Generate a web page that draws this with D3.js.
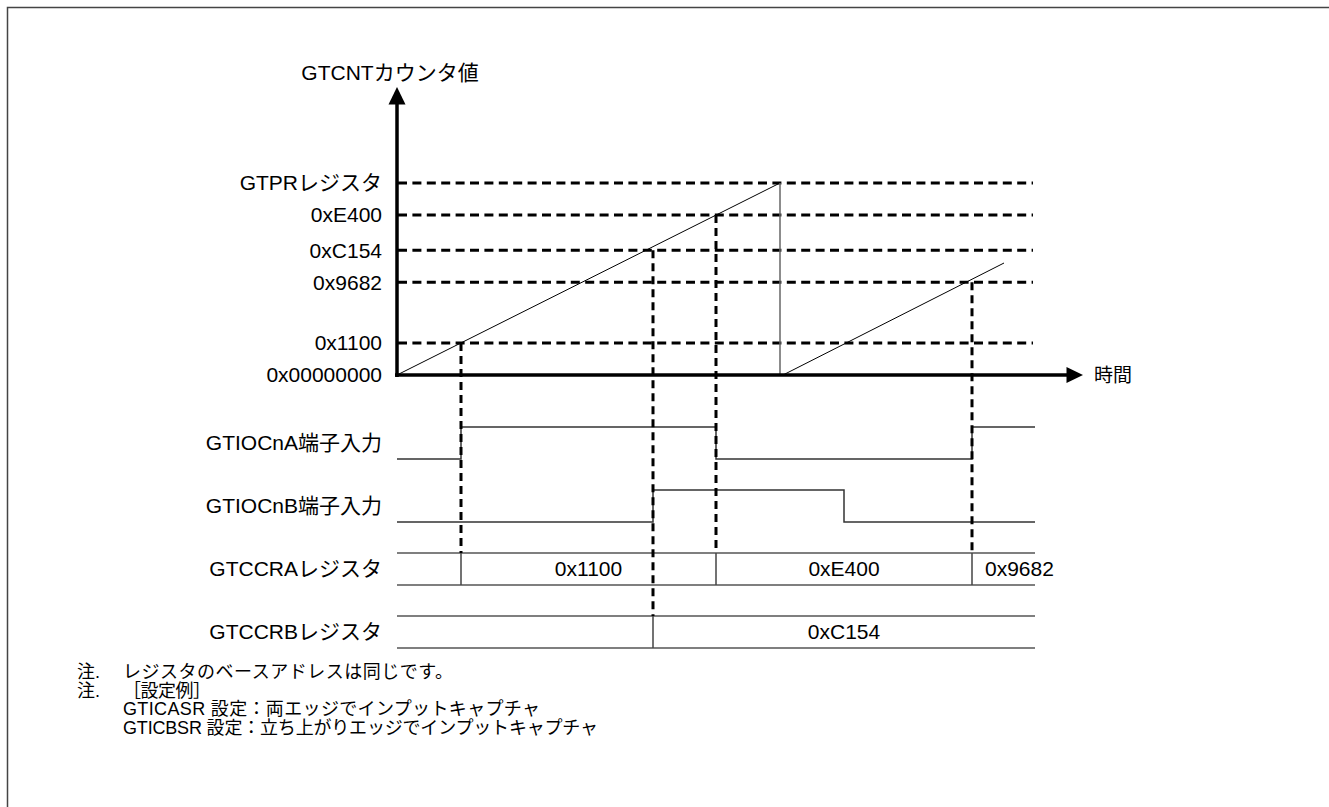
<!DOCTYPE html>
<html><head><meta charset="utf-8">
<script src="https://cdn.jsdelivr.net/npm/d3@7"></script>
<style>
body{margin:0;background:#fff}
svg{display:block}
text{font-family:"Liberation Sans",Arial,"Noto Sans CJK JP",sans-serif;fill:#000}
</style>
</head><body>
<svg id="c" width="1329" height="807"></svg>
<script>
// ---- data (schematic levels / time units) ----
const levelLabels = ["0x00000000","0x1100","0x9682","0xC154","0xE400","GTPRレジスタ"];
const levelValues = [0, 1, 2.9, 3.9, 5, 6];
const counterRamp1 = [[0,0],[383,6]];
const counterDrop  = [[383,6],[383,0]];
const counterRamp2 = [[386,0],[607,3.5]];
const captureTimes  = [64, 256, 319, 575];
const captureLevels = [1, 3.9, 5, 2.9];
const captureRows   = ["GTCCRAレジスタ","GTCCRBレジスタ","GTCCRAレジスタ","GTCCRAレジスタ"];
const rowNames = ["GTIOCnA端子入力","GTIOCnB端子入力","GTCCRAレジスタ","GTCCRBレジスタ"];
const sigATimes = [0, 64, 319, 575, 638];
const sigAStates = [0, 1, 0, 1, 1];
const sigBTimes = [0, 256, 447, 638];
const sigBStates = [0, 1, 0, 0];
const regAEdges  = [64, 319, 575];
const regAValues = ["0x1100","0xE400","0x9682"];
const regBEdges  = [256];
const regBValues = ["0xC154"];
const timeEnd = 638;
const yTitle = "GTCNTカウンタ値";
const xTitle = "時間";
const noteMarks = ["注.","注.","",""];
const noteTexts = [
  "レジスタのベースアドレスは同じです。",
  "［設定例］",
  "GTICASR 設定：両エッジでインプットキャプチャ",
  "GTICBSR 設定：立ち上がりエッジでインプットキャプチャ"
];
const noteWidths = [330, 88, 417, 475];

// ---- scales ----
const svg = d3.select("#c");
const x = d3.scaleLinear().domain([0, timeEnd]).range([397, 1035]);
const y = d3.scaleLinear().domain([0, 6]).range([375, 183]);
const row = d3.scalePoint().domain(rowNames).range([443, 632]);
const half = 16;
const FS = 21;

// frame
svg.append("rect").attr("x",7.5).attr("y",7.5).attr("width",1400).attr("height",900)
  .attr("fill","none").attr("stroke","#444").attr("stroke-width",1.5);

// horizontal dashed reference lines
svg.append("g").selectAll("line").data(levelValues.slice(1)).join("line")
  .attr("x1", x(0)+1).attr("x2", x(timeEnd)-2)
  .attr("y1", d=>y(d)).attr("y2", d=>y(d))
  .attr("stroke","#000").attr("stroke-width",3).attr("stroke-dasharray","9,5.4");

// level labels
svg.append("g").selectAll("text").data(levelValues).join("text")
  .attr("x", 382).attr("y", d=>y(d)).attr("dy","0.35em")
  .attr("text-anchor","end").attr("font-size",FS)
  .text((d,i)=>levelLabels[i]);

// counter
const line = d3.line().x(d=>x(d[0])).y(d=>y(d[1]));
svg.append("path").attr("d", line(counterRamp1)).attr("fill","none").attr("stroke","#000").attr("stroke-width",1);
svg.append("path").attr("d", line(counterDrop)).attr("fill","none").attr("stroke","#666").attr("stroke-width",1.5);
svg.append("path").attr("d", line(counterRamp2)).attr("fill","none").attr("stroke","#000").attr("stroke-width",1);

// signals
const step = d3.line().curve(d3.curveStepAfter);
function drawSig(times, states, name){
  const yc = row(name);
  const pts = times.map((t,i)=>[x(t), states[i] ? yc-half : yc+half]);
  svg.append("path").attr("d", step(pts)).attr("fill","none").attr("stroke","#333").attr("stroke-width",1.5);
}
drawSig(sigATimes, sigAStates, rowNames[0]);
drawSig(sigBTimes, sigBStates, rowNames[1]);

// register rows
function drawReg(name, edges, values, lastStart){
  const yc = row(name);
  const g = svg.append("g");
  [yc-half, yc+half].forEach(yy=>{
    g.append("line").attr("x1",x(0)).attr("x2",x(timeEnd)).attr("y1",yy).attr("y2",yy)
      .attr("stroke","#555").attr("stroke-width",1.5);
  });
  edges.forEach(t=>{
    g.append("line").attr("x1",x(t)).attr("x2",x(t)).attr("y1",yc-half).attr("y2",yc+half)
      .attr("stroke","#444").attr("stroke-width",1.5);
  });
  edges.forEach((t,i)=>{
    const t2 = i+1 < edges.length ? edges[i+1] : timeEnd;
    const last = i === edges.length-1 && lastStart;
    g.append("text")
      .attr("x", last ? x(t)+13 : (x(t)+x(t2))/2)
      .attr("y", yc).attr("dy","0.35em")
      .attr("text-anchor", last ? "start" : "middle").attr("font-size",FS)
      .text(values[i]);
  });
}
drawReg(rowNames[2], regAEdges, regAValues, true);
drawReg(rowNames[3], regBEdges, regBValues, false);

// capture dashed verticals
svg.append("g").selectAll("line").data(captureTimes).join("line")
  .attr("x1", d=>x(d)).attr("x2", d=>x(d))
  .attr("y1", (d,i)=>y(captureLevels[i]))
  .attr("y2", (d,i)=>row(captureRows[i]) - half)
  .attr("stroke","#000").attr("stroke-width",3).attr("stroke-dasharray","8,5");

// row labels
svg.append("g").selectAll("text").data(rowNames).join("text")
  .attr("x",382).attr("y", d=>row(d)).attr("dy","0.35em")
  .attr("text-anchor","end").attr("font-size",FS).text(d=>d);

// axes
svg.append("line").attr("x1",x(0)).attr("x2",x(0)).attr("y1",y(0)+2).attr("y2",104)
  .attr("stroke","#000").attr("stroke-width",3.5);
svg.append("path").attr("d",`M${x(0)},87L${x(0)-8.5},104.5L${x(0)+8.5},104.5Z`).attr("fill","#000");
svg.append("line").attr("x1",x(0)-2).attr("x2",1067).attr("y1",y(0)).attr("y2",y(0))
  .attr("stroke","#000").attr("stroke-width",3.5);
svg.append("path").attr("d",`M1083,${y(0)}L1066.5,${y(0)-8}L1066.5,${y(0)+8}Z`).attr("fill","#000");

svg.append("text").attr("x",390).attr("y",80).attr("text-anchor","middle").attr("font-size",21).text(yTitle);
svg.append("text").attr("x",1094).attr("y",y(0)).attr("dy","0.35em").attr("font-size",19).text(xTitle);

// notes
const ng = svg.append("g").attr("font-size",18);
noteTexts.forEach((t,i)=>{
  const yy = 678 + i*18.6;
  if(noteMarks[i]) ng.append("text").attr("x",77).attr("y",yy).text(noteMarks[i]);
  ng.append("text").attr("x",123).attr("y",yy)
    .attr("textLength",noteWidths[i]).attr("lengthAdjust","spacing").text(t);
});
</script>
</body></html>
